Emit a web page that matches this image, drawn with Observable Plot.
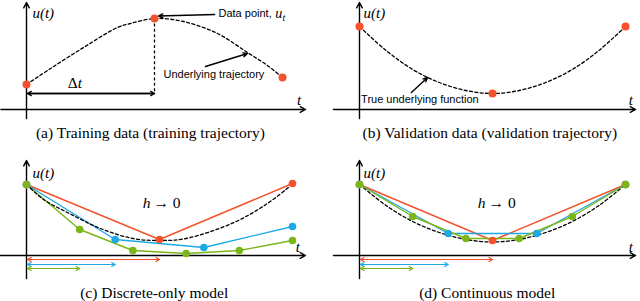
<!DOCTYPE html>
<html><head><meta charset="utf-8">
<script src="https://cdn.jsdelivr.net/npm/d3@7"></script>
<script src="https://cdn.jsdelivr.net/npm/@observablehq/plot@0.6"></script>
<style>
body{margin:0;background:#fff;}
#fig{display:grid;grid-template-columns:320px 320px;grid-template-rows:150px 151px;width:640px;height:301px;}
#fig svg{display:block;}
</style></head><body><div id="fig"></div>
<script>
// ---------- data ----------
const RED = "#f4512c", BLUE = "#1ca9e6", GREEN = "#7cb518";

// (a) training trajectory
const trainT = [0, 0.094, 0.223, 0.355, 0.406, 0.5, 0.613, 0.746, 0.863, 0.941, 1];
const trainU = [0.25, 0.41, 0.62, 0.82, 0.86, 0.91, 0.88, 0.76, 0.57, 0.44, 0.32];
const trainSampleT = [0, 0.5, 1];
const trainSampleU = [0.25, 0.91, 0.32];

// (b) validation trajectory
const valT = [0, 0.1, 0.2, 0.3, 0.4, 0.5, 0.6, 0.7, 0.8, 0.9, 1];
const valU = [0.83, 0.59, 0.40, 0.27, 0.19, 0.16, 0.19, 0.27, 0.40, 0.59, 0.83];
const valSampleT = [0, 0.5, 1];
const valSampleU = [0.83, 0.16, 0.83];

// (c) discrete-only model
const discTrueT = [0, 0.064, 0.154, 0.278, 0.4, 0.5, 0.6, 0.78, 0.9, 0.985];
const discTrueU = [0.71, 0.56, 0.43, 0.27, 0.17, 0.15, 0.17, 0.33, 0.51, 0.68];
const discRedT = [0, 0.5, 1],               discRedU = [0.71, 0.16, 0.72];
const discBlueT = [0, 1/3, 2/3, 1],         discBlueU = [0.71, 0.16, 0.08, 0.29];
const discGreenT = [0, 0.2, 0.4, 0.6, 0.8, 1], discGreenU = [0.71, 0.26, 0.05, 0.02, 0.05, 0.15];

// (d) continuous model
const contTrueT = [0, 0.1, 0.2, 0.3, 0.4, 0.5, 0.6, 0.7, 0.8, 0.9, 1];
const contTrueU = [0.71, 0.50, 0.34, 0.23, 0.16, 0.135, 0.16, 0.23, 0.34, 0.50, 0.71];
const contRedT = [0, 0.5, 1],               contRedU = [0.71, 0.15, 0.71];
const contBlueT = [0, 1/3, 2/3, 1],         contBlueU = [0.71, 0.22, 0.22, 0.71];
const contGreenT = [0, 0.2, 0.4, 0.6, 0.8, 1], contGreenU = [0.71, 0.39, 0.17, 0.17, 0.39, 0.71];

// step sizes h (shown as arrows under the axis)
const stepH = [0.5, 1/3, 0.2];
const stepColors = [RED, BLUE, GREEN];

const captions = [
  "(a) Training data (training trajectory)",
  "(b) Validation data (validation trajectory)",
  "(c) Discrete-only model",
  "(d) Continuous model"
];

// ---------- helpers ----------
const zip = (T, U) => T.map((t, i) => ({t, u: U[i]}));
const SERIF = "'Liberation Serif', 'Times New Roman', serif";
const SANS = "'Liberation Sans', Arial, sans-serif";

function frame(L, marks) {
  const W = 320, H = L.h;
  return Plot.plot({
    width: W, height: H, margin: 0,
    x: {domain: [-L.ox / L.kx, (W - L.ox) / L.kx], range: [0, W]},
    y: {domain: [-(H - L.oy) / 100, L.oy / 100], range: [H, 0]},
    axis: null,
    marks: [
      // axes
      Plot.arrow([0], {x1: L.xa[0], x2: L.xa[1], y1: 0, y2: 0, stroke: "black", strokeWidth: 1.4, headLength: 6.5, headAngle: 55}),
      Plot.arrow([0], {x1: 0, x2: 0, y1: L.ya[0], y2: L.ya[1], stroke: "black", strokeWidth: 1.4, headLength: 6.5, headAngle: 55}),
      Plot.text(["u(t)"], {x: L.ul[0], y: L.ul[1], text: d => d, textAnchor: "start", fontFamily: SERIF, fontStyle: "italic", fontSize: 15}),
      Plot.text(["t"], {x: L.tl[0], y: L.tl[1], text: d => d, fontFamily: SERIF, fontStyle: "italic", fontSize: 15}),
      ...marks,
      Plot.text([L.caption], {x: L.cap[0], y: L.cap[1], text: d => d, fontFamily: SERIF, fontSize: 15.5})
    ]
  });
}

function dashed(data) {
  return Plot.line(data, {x: "t", y: "u", curve: "catmull-rom", stroke: "black", strokeWidth: 1.3, strokeDasharray: "3,2.4"});
}
function series(data, color) {
  return [Plot.line(data, {x: "t", y: "u", stroke: color, strokeWidth: 1.4})];
}
function dots(data, color, r) {
  return Plot.dot(data, {x: "t", y: "u", fill: color, r});
}
function stepArrows() {
  const levels = [-0.04, -0.09, -0.13];
  const rows = stepH.map((h, i) => ({h, u: levels[i], c: stepColors[i]}));
  return [
    Plot.arrow(rows, {x1: 0.004, x2: "h", y1: "u", y2: "u", stroke: "c", strokeWidth: 1.2, headLength: 5, headAngle: 60}),
    Plot.arrow(rows, {x1: "h", x2: 0.004, y1: "u", y2: "u", stroke: "c", strokeWidth: 1.2, headLength: 5, headAngle: 60})
  ];
}
function hLabel(t, u) {
  return [
    Plot.text(["h"], {x: t, y: u, text: d => d, textAnchor: "end", fontFamily: SERIF, fontStyle: "italic", fontSize: 15.5}),
    Plot.text(["→ 0"], {x: t, y: u, text: d => d, textAnchor: "start", dx: 3, fontFamily: SERIF, fontSize: 15.5})
  ];
}

const fig = document.getElementById("fig");

// (a)
fig.append(frame(
  {h: 150, ox: 26, oy: 109, kx: 256, xa: [-0.1, 1.09], ya: [-0.09, 1.07], ul: [0.023, 0.96], tl: [1.065, 0.09], cap: [0.484, -0.24], caption: captions[0]},
  [
    dashed(zip(trainT, trainU)),
    Plot.ruleX([trainSampleT[1]], {y1: trainSampleU[1], y2: 0.16, stroke: "black", strokeWidth: 1.3, strokeDasharray: "3,2.4"}),
    Plot.arrow([0], {x1: 0.004, x2: 0.5, y1: 0.16, y2: 0.16, stroke: "black", strokeWidth: 1.3, headLength: 5, headAngle: 60}),
    Plot.arrow([0], {x1: 0.5, x2: 0.004, y1: 0.16, y2: 0.16, stroke: "black", strokeWidth: 1.3, headLength: 5, headAngle: 60}),
    Plot.text(["Δ"], {x: 0.2, y: 0.26, text: d => d, textAnchor: "end", fontFamily: SERIF, fontSize: 15.5}),
    Plot.text(["t"], {x: 0.2, y: 0.26, text: d => d, textAnchor: "start", fontFamily: SERIF, fontStyle: "italic", fontSize: 15.5}),
    Plot.arrow([0], {x1: 0.735, x2: 0.516, y1: 0.95, y2: 0.935, stroke: "black", strokeWidth: 1.4, headLength: 5, headAngle: 50}),
    Plot.text(["Data point,"], {x: 0.75, y: 0.96, text: d => d, textAnchor: "start", fontFamily: SANS, fontSize: 11}),
    Plot.text(["u"], {x: 0.972, y: 0.955, text: d => d, textAnchor: "start", fontFamily: SERIF, fontStyle: "italic", fontSize: 14}),
    Plot.text(["t"], {x: 1.0, y: 0.92, text: d => d, textAnchor: "start", fontFamily: SERIF, fontStyle: "italic", fontSize: 10}),
    Plot.arrow([0], {x1: 0.699, x2: 0.863, y1: 0.43, y2: 0.56, stroke: "black", strokeWidth: 1.4, headLength: 5, headAngle: 50}),
    Plot.text(["Underlying trajectory"], {x: 0.535, y: 0.35, text: d => d, textAnchor: "start", fontFamily: SANS, fontSize: 11}),
    dots(zip(trainSampleT, trainSampleU), RED, 4)
  ]
));

// (b)
fig.append(frame(
  {h: 150, ox: 39, oy: 109, kx: 266, xa: [-0.098, 1.038], ya: [-0.09, 1.07], ul: [0.015, 0.96], tl: [1.02, 0.09], cap: [0.49, -0.24], caption: captions[1]},
  [
    dashed(zip(valT, valU)),
    Plot.arrow([0], {x1: 0.195, x2: 0.256, y1: 0.17, y2: 0.32, stroke: "black", strokeWidth: 1.4, headLength: 5, headAngle: 50}),
    Plot.text(["True underlying function"], {x: 0.006, y: 0.10, text: d => d, textAnchor: "start", fontFamily: SANS, fontSize: 11}),
    dots(zip(valSampleT, valSampleU), RED, 4)
  ]
));

// (c)
fig.append(frame(
  {h: 151, ox: 26, oy: 105, kx: 266, xa: [-0.098, 1.049], ya: [-0.23, 0.95], ul: [0.023, 0.82], tl: [1.02, 0.08], cap: [0.48, -0.38], caption: captions[2]},
  [
    ...series(zip(discRedT, discRedU), RED),
    ...series(zip(discBlueT, discBlueU), BLUE),
    ...series(zip(discGreenT, discGreenU), GREEN),
    dashed(zip(discTrueT, discTrueU)),
    ...stepArrows(),
    ...hLabel(0.466, 0.52),
    dots(zip(discRedT, discRedU), RED, 3.8),
    dots(zip(discBlueT, discBlueU), BLUE, 3.8),
    dots(zip(discGreenT, discGreenU), GREEN, 3.8)
  ]
));

// (d)
fig.append(frame(
  {h: 151, ox: 39, oy: 105, kx: 266, xa: [-0.098, 1.038], ya: [-0.23, 0.95], ul: [0.015, 0.82], tl: [1.02, 0.08], cap: [0.48, -0.38], caption: captions[3]},
  [
    dashed(zip(contTrueT, contTrueU)),
    ...series(zip(contRedT, contRedU), RED),
    ...series(zip(contBlueT, contBlueU), BLUE),
    ...series(zip(contGreenT, contGreenU), GREEN),
    ...stepArrows(),
    ...hLabel(0.474, 0.52),
    dots(zip(contRedT, contRedU), RED, 3.8),
    dots(zip(contBlueT, contBlueU), BLUE, 3.8),
    dots(zip(contGreenT, contGreenU), GREEN, 3.8)
  ]
));
</script></body></html>
